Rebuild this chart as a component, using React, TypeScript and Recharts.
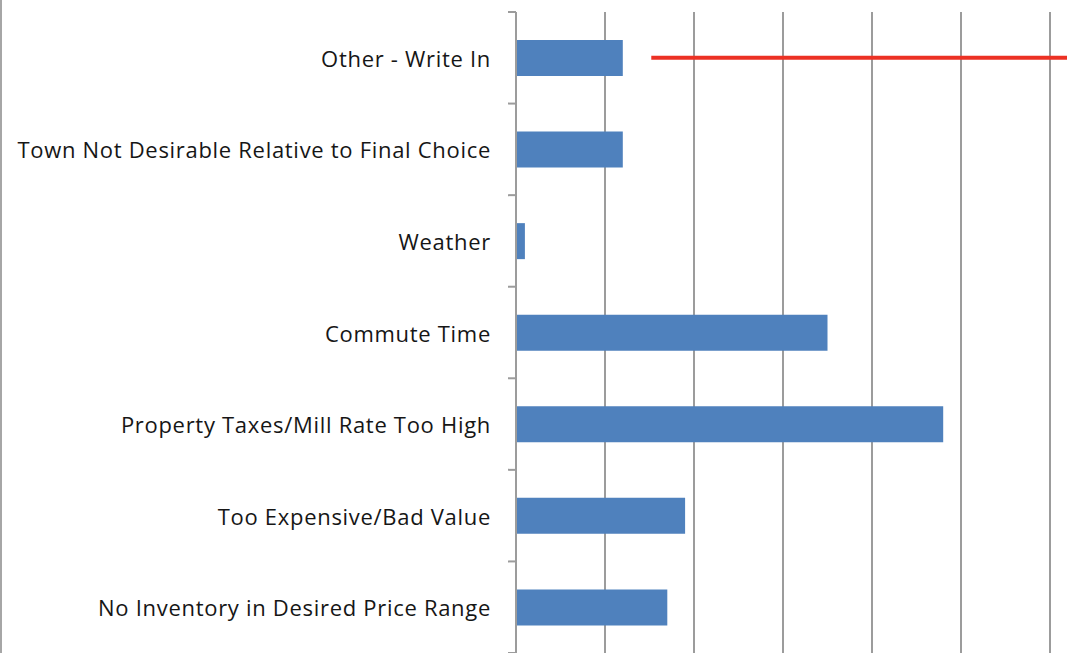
import { BarChart, Bar, XAxis, YAxis, CartesianGrid, ReferenceLine } from "recharts";

const CATEGORIES = [
  "Other - Write In",
  "Town Not Desirable Relative to Final Choice",
  "Weather",
  "Commute Time",
  "Property Taxes/Mill Rate Too High",
  "Too Expensive/Bad Value",
  "No Inventory in Desired Price Range",
];
const VALUES = [12, 12, 1, 35, 48, 19, 17];
const X_TICKS = [0, 10, 20, 30, 40, 50, 60];

// red marker drawn across the top row
const MARKER_CATEGORY = "Other - Write In";
const MARKER_FROM = 15.2;
const MARKER_TO = 62;

const W = 1067;
const H = 653;
const MARGIN = { top: 12, right: 17, bottom: 0, left: 16 };
const AXIS_W = 500;
const BAND = (H - MARGIN.top - MARGIN.bottom) / CATEGORIES.length;
const GRID = "#9c9c9c";

const data = CATEGORIES.map((name, i) => ({ name, value: VALUES[i] }));

// label plus tick marks at the band edges (excel style)
// eslint-disable-next-line @typescript-eslint/no-explicit-any
const CategoryTick = ({ x, y, payload, index }: any) => (
  <g>
    <line x1={x + 17} x2={x + 25} y1={y - BAND / 2} y2={y - BAND / 2} stroke={GRID} strokeWidth={2} />
    {index === CATEGORIES.length - 1 && (
      <line x1={x + 17} x2={x + 25} y1={y + BAND / 2} y2={y + BAND / 2} stroke={GRID} strokeWidth={2} />
    )}
    <text
      x={x}
      y={y}
      textAnchor="end"
      dominantBaseline="central"
      fontSize={22}
      letterSpacing={0.7}
      fill="#161616"
      fontFamily="'Open Sans', sans-serif"
    >
      {payload.value}
    </text>
  </g>
);

export default function App() {
  return (
    <div
      style={{
        position: "fixed",
        left: 0,
        top: 0,
        width: W,
        height: H,
        overflow: "hidden",
        background: "#fff",
        borderLeft: "2px solid #a6a6a6",
        boxSizing: "border-box",
      }}
    >
      <BarChart
        width={W - 2}
        height={H}
        data={data}
        layout="vertical"
        margin={{ ...MARGIN, left: MARGIN.left - 2 }}
        barSize={36}
        style={{ overflow: "visible" }}
      >
        <CartesianGrid horizontal={false} stroke={GRID} strokeWidth={2} />
        <XAxis type="number" domain={[0, 60]} ticks={X_TICKS} hide />
        <YAxis
          type="category"
          dataKey="name"
          width={AXIS_W}
          tickSize={8}
          tickMargin={17}
          tickLine={false}
          axisLine={{ stroke: GRID, strokeWidth: 2 }}
          tick={<CategoryTick />}
          interval={0}
        />
        <Bar dataKey="value" fill="#4f81bd" isAnimationActive={false} />
        <ReferenceLine
          segment={[
            { x: MARKER_FROM, y: MARKER_CATEGORY },
            { x: MARKER_TO, y: MARKER_CATEGORY },
          ]}
          stroke="#ec3124"
          strokeWidth={4}
          ifOverflow="visible"
        />
      </BarChart>
    </div>
  );
}
